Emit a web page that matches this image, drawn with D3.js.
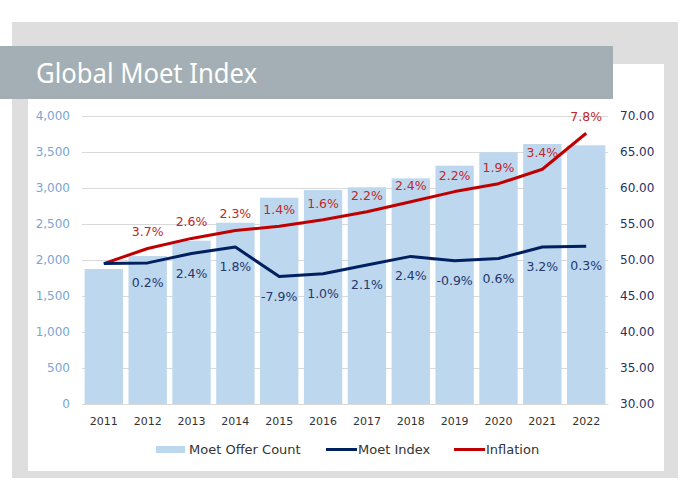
<!DOCTYPE html>
<html><head><meta charset="utf-8">
<script src="https://cdn.jsdelivr.net/npm/d3@7"></script>
<style>body{margin:0;background:#fff}svg{display:block}</style>
</head><body>
<svg id="c" width="690" height="497"></svg>
<script>
const years = ["2011","2012","2013","2014","2015","2016","2017","2018","2019","2020","2021","2022"];
const offerCount = [1875, 2055, 2268, 2518, 2865, 2972, 3010, 3134, 3310, 3495, 3611, 3593];
const moetIndex = [49.5, 49.6, 50.9, 51.8, 47.7, 48.1, 49.3, 50.5, 49.9, 50.2, 51.8, 51.9];
const inflation = [49.5, 51.6, 53.0, 54.1, 54.7, 55.6, 56.7, 58.1, 59.5, 60.6, 62.6, 67.6];
const moetLabels = [null, "0.2%", "2.4%", "1.8%", "-7.9%", "1.0%", "2.1%", "2.4%", "-0.9%", "0.6%", "3.2%", "0.3%"];
const inflationLabels = [null, "3.7%", "2.6%", "2.3%", "1.4%", "1.6%", "2.2%", "2.4%", "2.2%", "1.9%", "3.4%", "7.8%"];
const leftTicks = [0,500,1000,1500,2000,2500,3000,3500,4000];
const rightTicks = [30,35,40,45,50,55,60,65,70];
const seriesNames = ["Moet Offer Count","Moet Index","Inflation"];

const svg = d3.select("#c");
const F = "'DejaVu Sans', sans-serif";

// frame
svg.append("rect").attr("x",12).attr("y",22).attr("width",666).attr("height",456).attr("fill","#dedede");
svg.append("rect").attr("x",28).attr("y",64).attr("width",636).attr("height",407).attr("fill","#ffffff");
svg.append("rect").attr("x",0).attr("y",46).attr("width",613).attr("height",53).attr("fill","#a3afb4");
svg.append("text").attr("x",36).attr("y",83).attr("fill","#fff")
  .attr("font-family","'Noto Sans', sans-serif").attr("font-size",27)
  .attr("textLength",221).attr("lengthAdjust","spacingAndGlyphs")
  .text("Global Moet Index");

const x = d3.scaleBand().domain(years).range([82,608]).paddingInner(0.125).paddingOuter(0.06);
const yL = d3.scaleLinear().domain([0,4000]).range([404,116]);
const yR = d3.scaleLinear().domain([30,70]).range([404,116]);
const cx = d => x(d) + x.bandwidth()/2;

// gridlines
const gl = d3.axisLeft(yL).tickValues(leftTicks).tickSize(-526).tickFormat("");
const gg = svg.append("g").attr("transform","translate(82,0)").call(gl);
gg.select(".domain").remove();
gg.selectAll("line").attr("stroke","#d9d9d9").attr("stroke-width",1);

// left axis labels
const la = svg.append("g").attr("transform","translate(70,0)")
  .call(d3.axisLeft(yL).tickValues(leftTicks).tickSize(0).tickPadding(0).tickFormat(d3.format(",")));
la.select(".domain").remove();
la.selectAll("text").attr("font-family",F).attr("font-size",12).attr("fill","#7aa5d2");

// right axis labels
const ra = svg.append("g").attr("transform","translate(620,0)")
  .call(d3.axisRight(yR).tickValues(rightTicks).tickSize(0).tickPadding(0).tickFormat(d3.format(".2f")));
ra.select(".domain").remove();
ra.selectAll("text").attr("font-family",F).attr("font-size",12).attr("fill","#1f3366");

// bars
svg.append("g").selectAll("rect").data(years).join("rect")
  .attr("x",d=>x(d)).attr("width",x.bandwidth())
  .attr("y",(d,i)=>yL(offerCount[i])).attr("height",(d,i)=>yL(0)-yL(offerCount[i]))
  .attr("fill","#bdd7ee");

// x axis
const xa = svg.append("g").attr("transform","translate(0,404)")
  .call(d3.axisBottom(x).tickSize(0).tickPadding(13));
xa.select(".domain").attr("stroke","#d9d9d9");
xa.selectAll("text").attr("font-family",F).attr("font-size",11).attr("fill","#333");

// lines
const line = d3.line().x((d,i)=>cx(years[i])).y(d=>yR(d));
svg.append("path").datum(inflation).attr("d",line).attr("fill","none").attr("stroke","#c00000").attr("stroke-width",3).attr("stroke-linejoin","round");
svg.append("path").datum(moetIndex).attr("d",line).attr("fill","none").attr("stroke","#002060").attr("stroke-width",3).attr("stroke-linejoin","round");

// labels
svg.append("g").selectAll("text").data(years).join("text")
  .filter((d,i)=>inflationLabels[i])
  .attr("x",d=>cx(d)).attr("y",d=>yR(inflation[years.indexOf(d)])-12)
  .attr("text-anchor","middle").attr("font-family",F).attr("font-size",12.5).attr("fill","#c0272d")
  .text(d=>inflationLabels[years.indexOf(d)]);
svg.append("g").selectAll("text").data(years).join("text")
  .filter((d,i)=>moetLabels[i])
  .attr("x",d=>cx(d)).attr("y",d=>yR(moetIndex[years.indexOf(d)])+24)
  .attr("text-anchor","middle").attr("font-family",F).attr("font-size",12.5).attr("fill","#24396e")
  .text(d=>moetLabels[years.indexOf(d)]);

// legend
const lg = svg.append("g").attr("font-family",F).attr("font-size",13).attr("fill","#333");
lg.append("rect").attr("x",156).attr("y",446).attr("width",29).attr("height",7).attr("fill","#bdd7ee");
lg.append("text").attr("x",189).attr("y",454).text(seriesNames[0]);
lg.append("line").attr("x1",326).attr("x2",357).attr("y1",449.5).attr("y2",449.5).attr("stroke","#002060").attr("stroke-width",3);
lg.append("text").attr("x",358).attr("y",454).text(seriesNames[1]);
lg.append("line").attr("x1",454).attr("x2",485).attr("y1",449.5).attr("y2",449.5).attr("stroke","#c00000").attr("stroke-width",3);
lg.append("text").attr("x",486).attr("y",454).text(seriesNames[2]);
</script>
</body></html>
